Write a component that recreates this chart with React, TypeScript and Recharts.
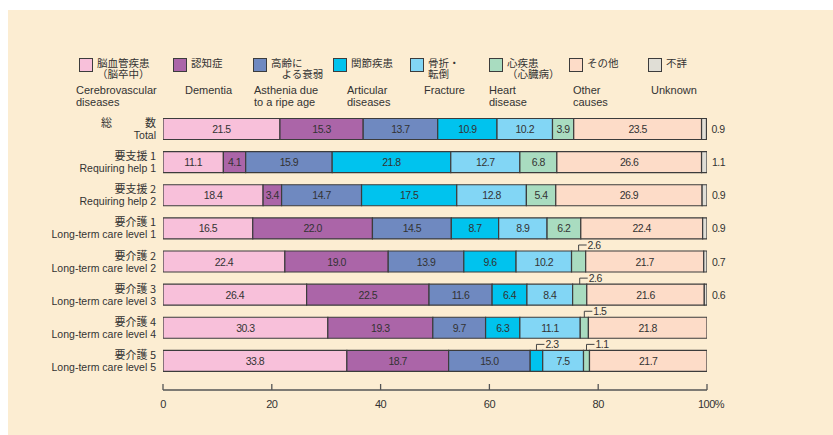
import React from 'react';
import { BarChart, Bar, XAxis, YAxis, LabelList } from 'recharts';

const categoriesJa = ['総　　　数', '要支援 1', '要支援 2', '要介護 1', '要介護 2', '要介護 3', '要介護 4', '要介護 5'];
const categoriesEn = [
  'Total',
  'Requiring help 1',
  'Requiring help 2',
  'Long-term care level 1',
  'Long-term care level 2',
  'Long-term care level 3',
  'Long-term care level 4',
  'Long-term care level 5',
];

const cerebrovascular = [21.5, 11.1, 18.4, 16.5, 22.4, 26.4, 30.3, 33.8];
const dementia = [15.3, 4.1, 3.4, 22.0, 19.0, 22.5, 19.3, 18.7];
const asthenia = [13.7, 15.9, 14.7, 14.5, 13.9, 11.6, 9.7, 15.0];
const articular = [10.9, 21.8, 17.5, 8.7, 9.6, 6.4, 6.3, 2.3];
const fracture = [10.2, 12.7, 12.8, 8.9, 10.2, 8.4, 11.1, 7.5];
const heart = [3.9, 6.8, 5.4, 6.2, 2.6, 2.6, 1.5, 1.1];
const other = [23.5, 26.6, 26.9, 22.4, 21.7, 21.6, 21.8, 21.7];
const unknown = [0.9, 1.1, 0.9, 0.9, 0.7, 0.6, 0, 0];

const xTicks = [0, 20, 40, 60, 80, 100];

const series = [
  { key: 'cerebro', values: cerebrovascular, color: '#F8C0DA', ja: '脳血管疾患\n（脳卒中）', en: 'Cerebrovascular\ndiseases', sx: 79, ex: 76 },
  { key: 'dementia', values: dementia, color: '#AB65A8', ja: '認知症', en: 'Dementia', sx: 173, ex: 185 },
  { key: 'asthenia', values: asthenia, color: '#6F89C0', ja: '高齢に\n　よる衰弱', en: 'Asthenia due\nto a ripe age', sx: 253, ex: 254 },
  { key: 'articular', values: articular, color: '#00C3EE', ja: '関節疾患', en: 'Articular\ndiseases', sx: 333, ex: 347 },
  { key: 'fracture', values: fracture, color: '#82D6F5', ja: '骨折・\n転倒', en: 'Fracture', sx: 410, ex: 424 },
  { key: 'heart', values: heart, color: '#A9DCC0', ja: '心疾患\n（心臓病）', en: 'Heart\ndisease', sx: 489, ex: 489 },
  { key: 'other', values: other, color: '#FDDCC8', ja: 'その他', en: 'Other\ncauses', sx: 569, ex: 573 },
  { key: 'unknown', values: unknown, color: '#E0DED6', ja: '不詳', en: 'Unknown', sx: 648, ex: 651 },
];

const data = categoriesJa.map((ja, i) => {
  const row: Record<string, any> = { ja, en: categoriesEn[i] };
  series.forEach((s) => {
    row[s.key] = s.values[i];
  });
  return row;
});

const font = "'Liberation Sans', 'Noto Sans CJK JP', Arial, sans-serif";
const jpFont = "'Noto Sans CJK JP', 'Liberation Sans', sans-serif";
const ink = '#333';
const edge = '#3c3c3c';

// two-line category label: Japanese above, English below, in one text element
const YTick = (props: any) => {
  const { x, y, payload, index } = props;
  return (
    <text x={x - 7} y={y - 2} textAnchor="end" fill={ink}>
      <tspan x={x - 7} fontSize={11} fontFamily={jpFont}>
        {payload.value}
      </tspan>
      <tspan x={x - 7} dy={12} fontSize={10.5} fontFamily={font}>
        {categoriesEn[index]}
      </tspan>
    </text>
  );
};

const XTick = (props: any) => {
  const { x, y, payload } = props;
  const last = payload.value === 100;
  return (
    <g>
      <line x1={x} x2={x} y1={y} y2={y - 6} stroke="#555" strokeWidth={1.3} />
      <text x={last ? x - 9 : x} y={y + 14} textAnchor={last ? 'start' : 'middle'} dominantBaseline="central" fontSize={11} fill={ink} fontFamily={font} letterSpacing={-0.5}>
        {last ? '100%' : payload.value}
      </text>
    </g>
  );
};

const makeLabel = (key: string) => (props: any) => {
  const { x, y, width, height, value } = props;
  if (!value) return null;
  const txt = Number(value).toFixed(1);
  if (key === 'unknown') {
    return (
      <text x={x + width + 5} y={y + height / 2} dominantBaseline="central" fontSize={10.5} fill={ink} fontFamily={font} letterSpacing={-0.5}>
        {txt}
      </text>
    );
  }
  if (value < 3) {
    const lx = x + width / 2;
    const ly = y - 6;
    return (
      <g>
        <polyline points={`${lx},${y} ${lx},${ly} ${lx + 8},${ly}`} fill="none" stroke="#444" strokeWidth={1} />
        <text x={lx + 9} y={ly} dominantBaseline="central" fontSize={10.5} fill={ink} fontFamily={font} letterSpacing={-0.5}>
          {txt}
        </text>
      </g>
    );
  }
  return (
    <text x={x + width / 2} y={y + height / 2} textAnchor="middle" dominantBaseline="central" fontSize={10.5} fill={ink} fontFamily={font} letterSpacing={-0.5}>
      {txt}
    </text>
  );
};

const LegendBlock = () => (
  <div style={{ position: 'absolute', left: -8, top: -10, width: 833, height: 120, pointerEvents: 'none' }}>
    {series.map((s) => (
      <React.Fragment key={s.key}>
        <div
          style={{
            position: 'absolute',
            left: s.sx,
            top: 58,
            width: 12,
            height: 12,
            background: s.color,
            border: `1.5px solid ${edge}`,
          }}
        />
        <div style={{ position: 'absolute', left: s.sx + 18, top: 57, fontFamily: jpFont, fontSize: 10.5, lineHeight: '11px', color: ink, whiteSpace: 'pre' }}>
          {s.ja}
        </div>
        <div style={{ position: 'absolute', left: s.ex, top: 84, fontFamily: font, fontSize: 11, lineHeight: '12px', color: ink, whiteSpace: 'pre' }}>
          {s.en}
        </div>
      </React.Fragment>
    ))}
  </div>
);

export default function App() {
  return (
    <div style={{ position: 'fixed', left: 8, top: 10, width: 825, height: 425, background: '#FCEDD2' }}>
      <LegendBlock />
      <BarChart
        width={825}
        height={425}
        data={data}
        layout="vertical"
        margin={{ top: 102.5, right: 126, left: 0, bottom: 15 }}
        barSize={21}
      >
        <XAxis
          type="number"
          domain={[0, 100]}
          ticks={xTicks}
          interval={0}
          allowDataOverflow
          height={30}
          axisLine={{ stroke: '#555', strokeWidth: 1.3 }}
          tickLine={false}
          tickSize={0}
          tickMargin={0}
          tick={<XTick />}
        />
        <YAxis
          type="category"
          dataKey="ja"
          width={155}
          axisLine={false}
          tickLine={false}
          tickSize={0}
          tickMargin={0}
          interval={0}
          padding={{ top: 0, bottom: 12.5 }}
          tick={<YTick />}
        />
        {series.map((s) => (
          <Bar key={s.key} dataKey={s.key} stackId="a" fill={s.color} stroke={edge} strokeWidth={1.2} isAnimationActive={false}>
            <LabelList dataKey={s.key} content={makeLabel(s.key)} />
          </Bar>
        ))}
      </BarChart>
    </div>
  );
}
